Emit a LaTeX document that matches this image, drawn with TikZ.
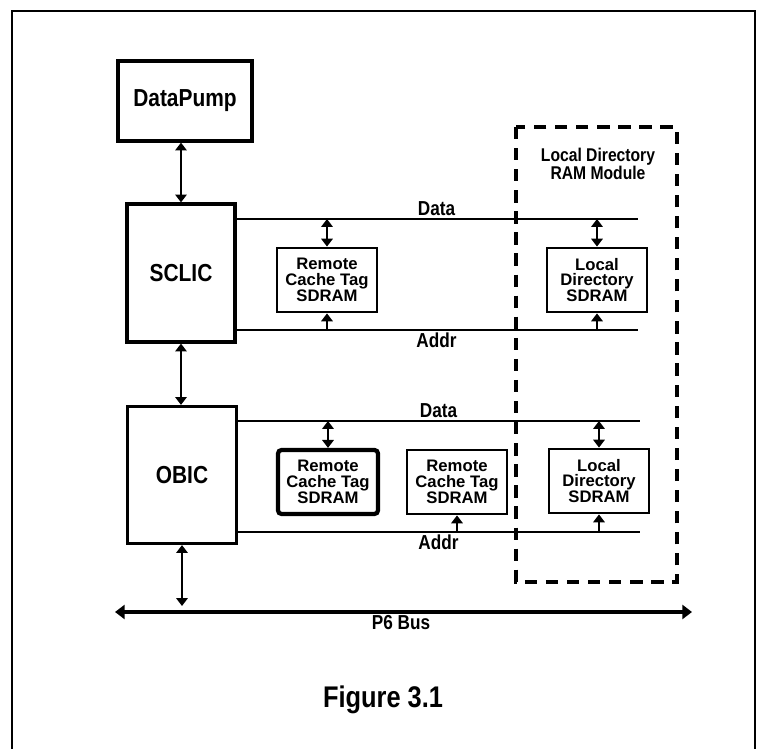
\documentclass[tikz,border=0pt]{standalone}
\usepackage{fontspec}
\setmainfont{Liberation Sans}
\newfontfamily\condfont[FakeStretch=0.85]{Liberation Sans}
\usetikzlibrary{arrows.meta,positioning,calc}

\begin{document}
\begin{tikzpicture}[
    x=0.02cm, y=-0.02cm,
    bigbox/.style={draw, line width=1.8pt, inner sep=0pt, font=\condfont\bfseries\fontsize{14}{16}\selectfont},
    chip/.style={draw, line width=1.6pt, minimum width=2cm, minimum height=1.28cm, inner sep=0pt, align=center, font=\bfseries\fontsize{9.5}{9}\selectfont},
    busline/.style={line width=1.7pt},
    buslabel/.style={font=\condfont\bfseries\fontsize{11.5}{11.5}\selectfont, inner sep=1pt},
    biarr/.style={{Triangle[width=6.5pt,length=4.5pt]}-{Triangle[width=6.5pt,length=4.5pt]}, line width=1.3pt},
    uparr/.style={-{Triangle[width=6.5pt,length=4.5pt]}, line width=1.3pt}
]
\useasboundingbox (0,0) rectangle (761,749);
% frame
\draw[line width=1.1pt] (12,749) -- (12,11) -- (755,11) -- (755,749);

% processors side
\node[bigbox, minimum width=2.68cm, minimum height=1.6cm] (pump) at (185,101) {DataPump};
\node[bigbox, minimum width=2.16cm, minimum height=2.76cm] (sclic) at (181,273) {SCLIC};
\node[bigbox, minimum width=2.18cm, minimum height=2.74cm] (obic) at (182,475) {OBIC};

% buses of the upper row
\coordinate (d1s) at (235,219);
\coordinate (d1e) at (638,219);
\coordinate (a1s) at (235,330);
\coordinate (a1e) at (638,330);
% buses of the lower row
\coordinate (d2s) at (237,421);
\coordinate (d2e) at (640,421);
\coordinate (a2s) at (237,532);
\coordinate (a2e) at (640,532);

\draw[busline] (d1s) -- (d1e) node[buslabel, above, midway] (dlab1) {Data};
\draw[busline] (a1s) -- (a1e) node[buslabel, below, midway] (alab1) {Addr};
\draw[busline] (d2s) -- (d2e) node[buslabel, above, midway] (dlab2) {Data};
\draw[busline] (a2s) -- (a2e) node[buslabel, below, midway] (alab2) {Addr};

% memories
\node[chip] (rct1) at (327,280) {Remote\\Cache Tag\\SDRAM};
\node[chip] (ld1) at (597,280) {Local\\Directory\\SDRAM};
\node[chip, line width=2.4pt, rounded corners=2pt] (rct2) at (328,482) {Remote\\Cache Tag\\SDRAM};
\node[chip] (rct3) at (457,482) {Remote\\Cache Tag\\SDRAM};
\node[chip] (ld2) at (599,481) {Local\\Directory\\SDRAM};

\draw[biarr] (rct1 |- d1s) -- (rct1.north);
\draw[uparr] (rct1 |- a1s) -- (rct1.south);
\draw[biarr] (ld1 |- d1s) -- (ld1.north);
\draw[uparr] (ld1 |- a1s) -- (ld1.south);
\draw[biarr] (rct2 |- d2s) -- (rct2.north);
\draw[uparr] (rct3 |- a2s) -- (rct3.south);
\draw[biarr] (ld2 |- d2s) -- (ld2.north);
\draw[uparr] (ld2 |- a2s) -- (ld2.south);

% module outline
\draw[line width=2.2pt, dash pattern=on 7pt off 5pt] (516,127) rectangle (677,582);
\node[buslabel, align=center, font=\condfont\bfseries\fontsize{10.5}{10.5}\selectfont] (modlab) at (598,164) {Local Directory\\RAM Module};

% P6 bus
\coordinate (p6l) at (115,612);
\coordinate (p6r) at (692,612);
\draw[line width=2pt, {Triangle[width=8pt,length=5.5pt]}-{Triangle[width=8pt,length=5.5pt]}] (p6l) -- (p6r);
\node[buslabel, below=1pt] (p6lab) at (401,612) {P6 Bus};

\draw[biarr] (sclic.north |- pump.south) -- (sclic.north);
\draw[biarr] (sclic.south) -- (sclic.south |- obic.north);
\draw[biarr] (obic.south) -- ($(obic.south |- p6l)+(0,-6)$);

\node[font=\condfont\bfseries\fontsize{17}{19}\selectfont] (fig) at (383,700) {Figure 3.1};
\end{tikzpicture}
\end{document}
